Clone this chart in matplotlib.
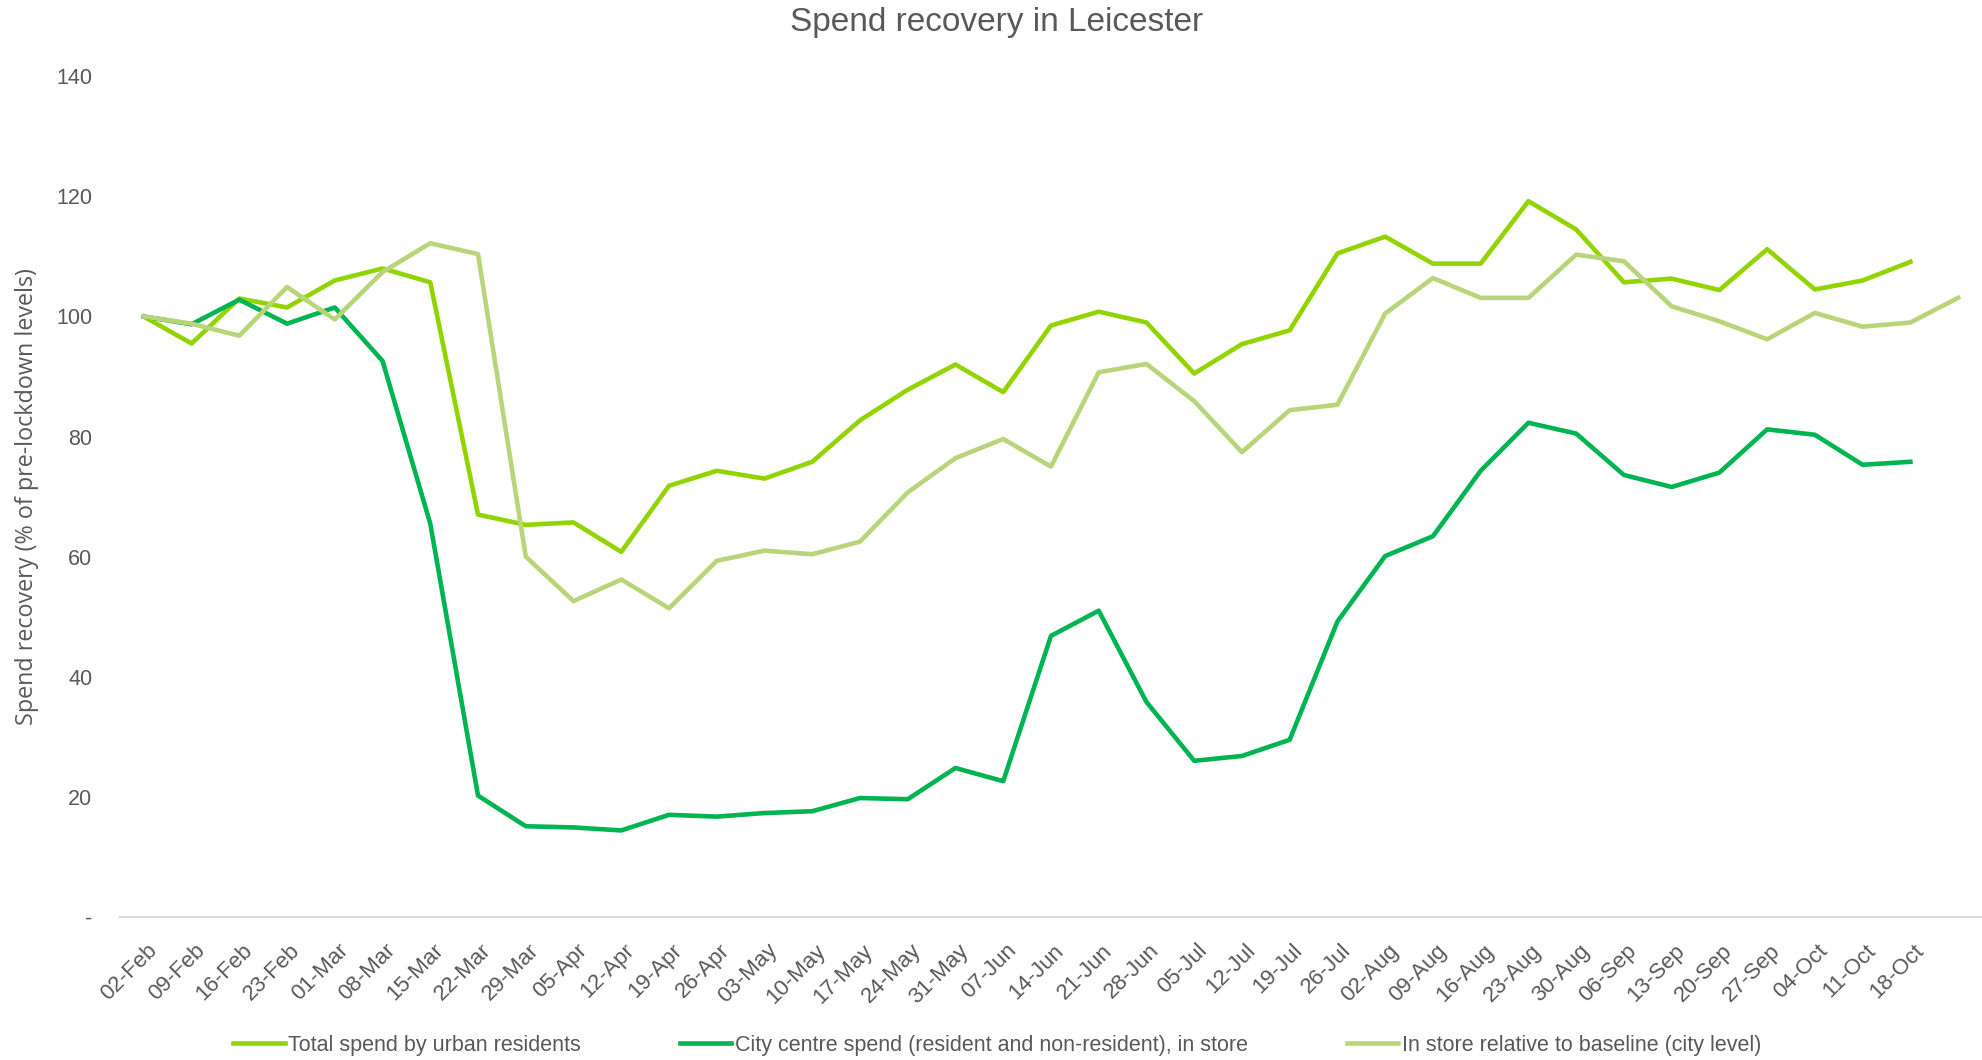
import matplotlib
matplotlib.use("Agg")
import matplotlib.pyplot as plt
import matplotlib.transforms as mtransforms
import numpy as np

plt.rcParams['font.family'] = ['Liberation Sans Narrow', 'Liberation Sans', 'DejaVu Sans']

weeks = ['02-Feb', '09-Feb', '16-Feb', '23-Feb', '01-Mar', '08-Mar', '15-Mar', '22-Mar',
         '29-Mar', '05-Apr', '12-Apr', '19-Apr', '26-Apr', '03-May', '10-May', '17-May',
         '24-May', '31-May', '07-Jun', '14-Jun', '21-Jun', '28-Jun', '05-Jul', '12-Jul',
         '19-Jul', '26-Jul', '02-Aug', '09-Aug', '16-Aug', '23-Aug', '30-Aug', '06-Sep',
         '13-Sep', '20-Sep', '27-Sep', '04-Oct', '11-Oct', '18-Oct', '']

total_spend = [100, 95.5, 103, 101.5, 106, 108, 105.7, 67, 65.3, 65.7, 60.8, 71.8, 74.3,
               73, 75.8, 82.7, 87.8, 92, 87.4, 98.5, 100.8, 99, 90.5, 95.4, 97.7, 110.5,
               113.3, 108.8, 108.8, 119.2, 114.5, 105.7, 106.3, 104.4, 111.2, 104.5, 106,
               109.1, np.nan]

city_centre = [100, 98.7, 102.8, 98.8, 101.5, 92.6, 65.5, 20.2, 15.1, 14.9, 14.4, 17,
               16.7, 17.3, 17.6, 19.8, 19.6, 24.8, 22.6, 46.8, 51, 35.8, 26, 26.8, 29.5,
               49.2, 60.1, 63.4, 74.3, 82.3, 80.5, 73.6, 71.6, 74, 81.2, 80.3, 75.3, 75.8,
               np.nan]

in_store = [100, 98.8, 96.8, 104.9, 99.5, 107.4, 112.2, 110.4, 60, 52.6, 56.2, 51.4,
            59.3, 61, 60.4, 62.5, 70.7, 76.4, 79.6, 75, 90.7, 92.1, 85.9, 77.4, 84.4,
            85.3, 100.5, 106.4, 103.1, 103.1, 110.3, 109.2, 101.7, 99.2, 96.2, 100.6,
            98.3, 99, 103.1]

grey = '#595959'
x = np.arange(len(weeks))

fig = plt.figure(figsize=(19.82, 10.6), dpi=100)
ax = fig.add_axes([0.0605, 0.135, 0.9395, 0.793])

ax.plot(x, total_spend, color='#92D400', lw=3.3, label='Total spend by urban residents')
ax.plot(x, city_centre, color='#00B452', lw=3.3,
        label='City centre spend (resident and non-resident), in store')
ax.plot(x, in_store, color='#B9D57A', lw=3.3, label='In store relative to baseline (city level)')

ax.set_xlim(-0.5, len(weeks) - 0.5)
ax.set_ylim(0, 140)
ax.set_yticks(range(0, 141, 20))
ax.set_yticklabels(['-'] + [str(v) for v in range(20, 141, 20)])
ax.set_xticks(x)
ax.set_xticklabels(weeks, rotation=45, ha='right', va='center', rotation_mode='anchor')

ax.tick_params(axis='y', length=0, pad=20, labelsize=15.5, labelcolor=grey)
ax.tick_params(axis='x', length=0, pad=22, labelsize=16, labelcolor=grey)

# nudge the slanted date labels a little to the right
shift = mtransforms.ScaledTranslation(10 / 100, 0, fig.dpi_scale_trans)
for lbl in ax.get_xticklabels():
    lbl.set_transform(lbl.get_transform() + shift)

for side in ['top', 'right', 'left']:
    ax.spines[side].set_visible(False)
ax.spines['bottom'].set_color('#D9D9D9')
ax.spines['bottom'].set_linewidth(1.5)

ax.set_ylabel('Spend recovery (% of pre-lockdown levels)', fontsize=16.8, color=grey,
              family=['Open Sans', 'DejaVu Sans'])
ax.yaxis.set_label_coords(-0.0435, 0.5)
fig.text(0.503, 0.979, 'Spend recovery in Leicester', ha='center', va='center',
         fontsize=24, color=grey)

fig.legend(loc='center', bbox_to_anchor=(0.503, 0.014), ncol=3, frameon=False,
           fontsize=15.5, labelcolor=grey, handlelength=2.4, handletextpad=0.15,
           columnspacing=4.6)

fig.savefig('out.png', dpi=100)
